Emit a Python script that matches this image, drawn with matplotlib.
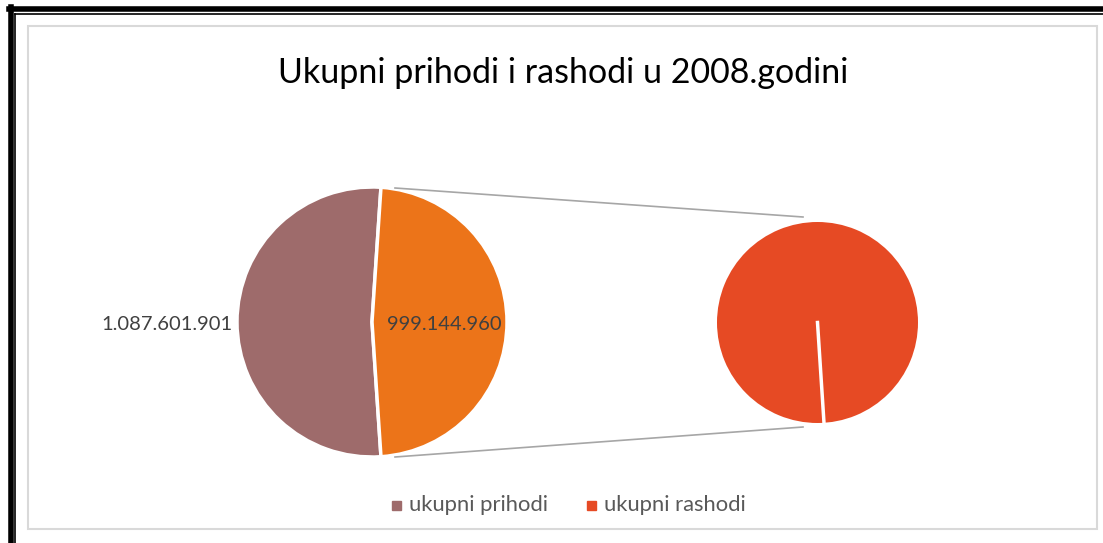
import numpy as np
import matplotlib.pyplot as plt
from matplotlib.patches import Rectangle
from matplotlib.lines import Line2D

plt.rcParams['font.family'] = ['Lato', 'DejaVu Sans']

# podaci
kategorije = ['ukupni prihodi', 'ukupni rashodi']
iznosi = [1087601901, 999144960]
oznake = ['1.087.601.901', '999.144.960']
boje = ['#9E6B6B', '#EC7419']
boja_rashodi = '#E64A24'

W, H = 1103, 543
fig = plt.figure(figsize=(W / 100, H / 100), dpi=100)
ax = fig.add_axes([0, 0, 1, 1])


def y(v):
    # pikseli odozgo -> koordinate osi
    return H - v


# lijevi pie
udio = iznosi[1] / sum(iznosi)
kut = 360 * udio / 2
c1, r1 = (372, y(322)), 135
ax.pie(iznosi, colors=boje, startangle=kut, center=c1, radius=r1,
       wedgeprops=dict(edgecolor='white', linewidth=2.5), frame=False)

# desni pie (raspad rashoda)
c2, r2 = (817.5, y(322.5)), 100.5
klin = ax.pie([iznosi[1]], colors=[boja_rashodi], startangle=-86.3,
              center=c2, radius=r2, frame=False)[0][0]
# bijeli rub na pocetku kruga
t = np.deg2rad(klin.theta1)
ax.add_line(Line2D([c2[0], c2[0] + r2 * np.cos(t)],
                   [c2[1], c2[1] + r2 * np.sin(t)], color='white', lw=2.5))

# spojne linije
ax.add_line(Line2D([395, 803], [y(188), y(217)], color='#A6A6A6', lw=1.2))
ax.add_line(Line2D([395, 803], [y(457), y(427)], color='#A6A6A6', lw=1.2))

# oznake vrijednosti
ax.text(232, y(325), oznake[0], ha='right', va='center', fontsize=14.5,
        color='#404040')
ax.text(444, y(325), oznake[1], ha='center', va='center', fontsize=14.5,
        color='#404040')

# naslov
ax.text(563, y(73), 'Ukupni prihodi i rashodi u 2008.godini', ha='center',
        va='center', fontsize=24.5, color='black')

# legenda
for xk, txt, col in [(396, kategorije[0], boje[0]),
                     (591, kategorije[1], boja_rashodi)]:
    ax.add_patch(Rectangle((xk - 4.5, y(510)), 9, 9, color=col))
    ax.text(xk + 13, y(505), txt, ha='left', va='center', fontsize=15.8,
            color='#595959')

# okviri
ax.add_patch(Rectangle((28, y(529)), 1069, 503, fill=False,
                       edgecolor='#D9D9D9', lw=1.5))
ax.add_line(Line2D([11, 11], [0, y(7)], color='black', lw=4))
ax.add_line(Line2D([9, W], [y(9), y(9)], color='black', lw=4))
ax.add_line(Line2D([15, 15], [0, y(14)], color='black', lw=1.2))
ax.add_line(Line2D([15, W], [y(14), y(14)], color='black', lw=1.2))

ax.set_xlim(0, W)
ax.set_ylim(0, H)
ax.set_aspect('auto')
ax.axis('off')

fig.savefig('out.png', dpi=100, facecolor='white')
